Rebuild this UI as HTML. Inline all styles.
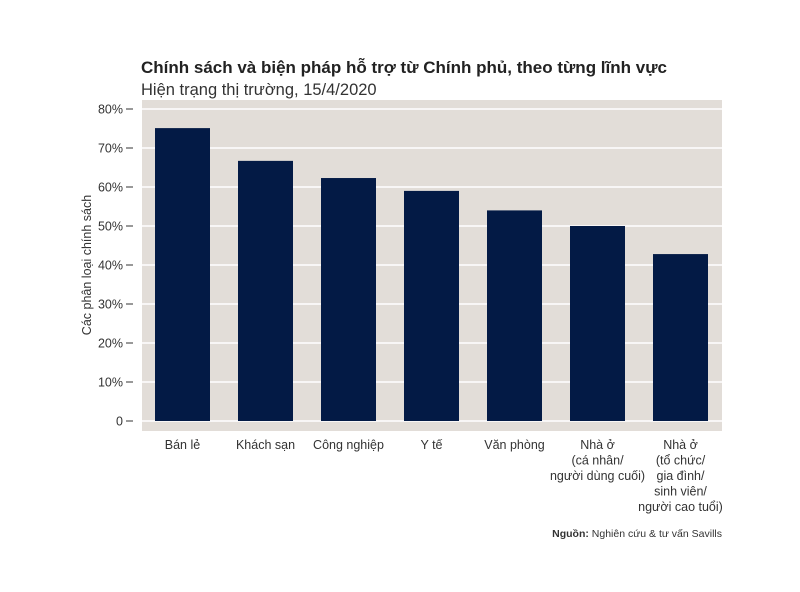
<!DOCTYPE html>
<html><head><meta charset="utf-8"><style>
body{margin:0;background:#fff;width:800px;height:587px;overflow:hidden;font-family:"Liberation Sans",sans-serif}
</style></head><body>
<svg width="800" height="587" font-family="Liberation Sans, sans-serif">
<text x="141" y="73" font-size="17" font-weight="bold" fill="#222">Chính sách và biện pháp hỗ trợ từ Chính phủ, theo từng lĩnh vực</text>
<text x="141" y="95" font-size="16.5" fill="#333">Hiện trạng thị trường, 15/4/2020</text>
<rect x="142" y="100" width="580" height="331" fill="#e2ddd8"/>
<g id="grid"></g><g id="bars"></g><g id="xlabels"></g>
<text transform="translate(91,265) rotate(-90)" text-anchor="middle" font-size="12.5" fill="#333">Các phân loại chính sách</text>
<text x="722" y="537" text-anchor="end" font-size="10.5" fill="#333"><tspan font-weight="bold">Nguồn:</tspan> Nghiên cứu &amp; tư vấn Savills</text>
</svg>
<script>
const categories=[["Bán lẻ"],["Khách sạn"],["Công nghiệp"],["Y tế"],["Văn phòng"],["Nhà ở","(cá nhân/","người dùng cuối)"],["Nhà ở","(tổ chức/","gia đình/","sinh viên/","người cao tuổi)"]];
const values=[75.1,66.7,62.3,59,54,50,42.8];
const tickValues=[0,10,20,30,40,50,60,70,80];
const tickLabels=["0","10%","20%","30%","40%","50%","60%","70%","80%"];
const NS="http://www.w3.org/2000/svg";
const y=v=>421-v*3.9;
const xc=i=>182.5+i*83;
function mk(t,a){const e=document.createElementNS(NS,t);for(const k in a)e.setAttribute(k,a[k]);return e;}
const g=document.getElementById("grid");
tickValues.forEach((v,i)=>{
 const l=mk("line",{x1:142,x2:722,y1:y(v),y2:y(v),stroke:"#fff","stroke-width":1.5});
 
 
 g.appendChild(l);
 const tk=mk("line",{x1:126,x2:133,y1:y(v),y2:y(v),stroke:"#333","stroke-width":1});
 
 
 g.appendChild(tk);
 const t=mk("text",{x:123,y:y(v)+4.5,"text-anchor":"end","font-size":12.5,fill:"#333"});
 t.textContent=tickLabels[i];
 
 
 g.appendChild(t);
});
const b=document.getElementById("bars"),xl=document.getElementById("xlabels");
values.forEach((v,i)=>{
 const r=mk("rect",{x:xc(i)-27.5,y:y(v),width:55,height:y(0)-y(v),fill:"#031a45"});
 
 
 b.appendChild(r);
 categories[i].forEach((s,j)=>{
  const t=mk("text",{x:xc(i),y:449+j*15.5,"text-anchor":"middle","font-size":12.5,fill:"#333"});
  t.textContent=s;
  
  
  xl.appendChild(t);
 });
});
</script>
</body></html>
